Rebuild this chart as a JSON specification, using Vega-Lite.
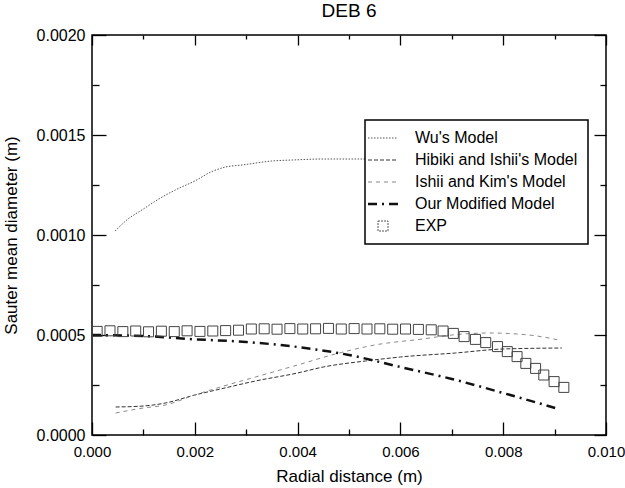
{
  "$schema": "https://vega.github.io/schema/vega-lite/v6.json",
  "width": 514,
  "height": 400,
  "autosize": {"type": "none"},
  "padding": {"left": 92, "top": 35, "right": 19, "bottom": 53},
  "title": {"text": "DEB 6", "fontSize": 19, "font": "Liberation Sans", "fontWeight": "normal", "color": "black", "offset": 6},
  "config": {
    "view": {"stroke": "black", "strokeWidth": 1.5},
    "font": "Liberation Sans",
    "axis": {"domain": false, "grid": false, "tickColor": "black", "tickWidth": 1.3, "labelColor": "black", "titleColor": "black", "labelFont": "Liberation Sans", "titleFont": "Liberation Sans", "labelFontSize": 16, "titleFontSize": 17, "titleFontWeight": "normal", "labelFlush": false, "labelOverlap": false}
  },
  "datasets": {
    "lines": [
      {"series": "Wu's Model", "x": 0.00045, "y": 0.00102},
      {"series": "Wu's Model", "x": 0.0007, "y": 0.00108},
      {"series": "Wu's Model", "x": 0.00097, "y": 0.001125},
      {"series": "Wu's Model", "x": 0.0013, "y": 0.00118},
      {"series": "Wu's Model", "x": 0.00162, "y": 0.001225},
      {"series": "Wu's Model", "x": 0.002, "y": 0.00127},
      {"series": "Wu's Model", "x": 0.00233, "y": 0.001317},
      {"series": "Wu's Model", "x": 0.0026, "y": 0.00134},
      {"series": "Wu's Model", "x": 0.00292, "y": 0.00135},
      {"series": "Wu's Model", "x": 0.0035, "y": 0.00137},
      {"series": "Wu's Model", "x": 0.0039, "y": 0.001375},
      {"series": "Wu's Model", "x": 0.0045, "y": 0.00138},
      {"series": "Wu's Model", "x": 0.0052, "y": 0.00138},
      {"series": "Wu's Model", "x": 0.006, "y": 0.00138},
      {"series": "Wu's Model", "x": 0.007, "y": 0.00138},
      {"series": "Wu's Model", "x": 0.008, "y": 0.00138},
      {"series": "Wu's Model", "x": 0.0091, "y": 0.00138},
      {"series": "Hibiki and Ishii's Model", "x": 0.00046, "y": 0.00014},
      {"series": "Hibiki and Ishii's Model", "x": 0.001, "y": 0.000145},
      {"series": "Hibiki and Ishii's Model", "x": 0.00143, "y": 0.00016},
      {"series": "Hibiki and Ishii's Model", "x": 0.002, "y": 0.0002},
      {"series": "Hibiki and Ishii's Model", "x": 0.0025, "y": 0.00023},
      {"series": "Hibiki and Ishii's Model", "x": 0.00318, "y": 0.00027},
      {"series": "Hibiki and Ishii's Model", "x": 0.004, "y": 0.00031},
      {"series": "Hibiki and Ishii's Model", "x": 0.0045, "y": 0.00034},
      {"series": "Hibiki and Ishii's Model", "x": 0.00532, "y": 0.00037},
      {"series": "Hibiki and Ishii's Model", "x": 0.006, "y": 0.00039},
      {"series": "Hibiki and Ishii's Model", "x": 0.00707, "y": 0.00041},
      {"series": "Hibiki and Ishii's Model", "x": 0.008, "y": 0.00043},
      {"series": "Hibiki and Ishii's Model", "x": 0.00914, "y": 0.000435},
      {"series": "Ishii and Kim's Model", "x": 0.00046, "y": 0.00011},
      {"series": "Ishii and Kim's Model", "x": 0.001, "y": 0.000135},
      {"series": "Ishii and Kim's Model", "x": 0.00143, "y": 0.00015},
      {"series": "Ishii and Kim's Model", "x": 0.002, "y": 0.0002},
      {"series": "Ishii and Kim's Model", "x": 0.0025, "y": 0.00024},
      {"series": "Ishii and Kim's Model", "x": 0.00318, "y": 0.00029},
      {"series": "Ishii and Kim's Model", "x": 0.004, "y": 0.00035},
      {"series": "Ishii and Kim's Model", "x": 0.00481, "y": 0.00041},
      {"series": "Ishii and Kim's Model", "x": 0.0055, "y": 0.00045},
      {"series": "Ishii and Kim's Model", "x": 0.00643, "y": 0.00048},
      {"series": "Ishii and Kim's Model", "x": 0.007, "y": 0.0005},
      {"series": "Ishii and Kim's Model", "x": 0.00772, "y": 0.00051},
      {"series": "Ishii and Kim's Model", "x": 0.0085, "y": 0.0005},
      {"series": "Ishii and Kim's Model", "x": 0.00908, "y": 0.000475}
    ],
    "modified": [
      {"series": "Our Modified Model", "x": 0.0, "y": 0.0005},
      {"series": "Our Modified Model", "x": 0.001, "y": 0.000495},
      {"series": "Our Modified Model", "x": 0.00189, "y": 0.00048},
      {"series": "Our Modified Model", "x": 0.003, "y": 0.000465},
      {"series": "Our Modified Model", "x": 0.004, "y": 0.00044},
      {"series": "Our Modified Model", "x": 0.005, "y": 0.0004},
      {"series": "Our Modified Model", "x": 0.006, "y": 0.00034},
      {"series": "Our Modified Model", "x": 0.007, "y": 0.00028},
      {"series": "Our Modified Model", "x": 0.008, "y": 0.00021},
      {"series": "Our Modified Model", "x": 0.00908, "y": 0.00013}
    ],
    "exp": [
      {"x": 0.0001, "y": 0.000518},
      {"x": 0.00035, "y": 0.000521},
      {"x": 0.0006, "y": 0.000517},
      {"x": 0.00085, "y": 0.00052},
      {"x": 0.0011, "y": 0.000516},
      {"x": 0.00135, "y": 0.000519},
      {"x": 0.0016, "y": 0.000517},
      {"x": 0.00185, "y": 0.000521},
      {"x": 0.0021, "y": 0.000518},
      {"x": 0.00235, "y": 0.00052},
      {"x": 0.0026, "y": 0.000522},
      {"x": 0.00285, "y": 0.000524},
      {"x": 0.0031, "y": 0.00053},
      {"x": 0.00335, "y": 0.000531},
      {"x": 0.0036, "y": 0.000529},
      {"x": 0.00385, "y": 0.000532},
      {"x": 0.0041, "y": 0.00053},
      {"x": 0.00435, "y": 0.000531},
      {"x": 0.0046, "y": 0.000533},
      {"x": 0.00485, "y": 0.00053},
      {"x": 0.0051, "y": 0.000532},
      {"x": 0.00535, "y": 0.00053},
      {"x": 0.0056, "y": 0.000531},
      {"x": 0.00585, "y": 0.000529},
      {"x": 0.0061, "y": 0.00053},
      {"x": 0.00635, "y": 0.000528},
      {"x": 0.0066, "y": 0.000526},
      {"x": 0.00683, "y": 0.00052},
      {"x": 0.00703, "y": 0.000508},
      {"x": 0.00724, "y": 0.000492},
      {"x": 0.00746, "y": 0.000478},
      {"x": 0.00766, "y": 0.000462},
      {"x": 0.00789, "y": 0.000442},
      {"x": 0.00808, "y": 0.000417},
      {"x": 0.00827, "y": 0.000392},
      {"x": 0.00844, "y": 0.000358},
      {"x": 0.00863, "y": 0.000333},
      {"x": 0.00879, "y": 0.0003},
      {"x": 0.00899, "y": 0.000267},
      {"x": 0.00918, "y": 0.000238}
    ]
  },
  "layer": [
    {
      "data": {"name": "lines"},
      "mark": {"type": "line", "strokeWidth": 1, "interpolate": "monotone"},
      "encoding": {
        "x": {"field": "x", "type": "quantitative", "scale": {"domain": [0, 0.01], "nice": false, "zero": false},
              "axis": {"orient": "bottom", "values": [0, 0.002, 0.004, 0.006, 0.008, 0.01], "format": ".3f", "tickSize": -13, "labelPadding": 22, "labelFontSize": 15, "title": "Radial distance (m)", "titlePadding": 9}},
        "y": {"field": "y", "type": "quantitative", "scale": {"domain": [0, 0.002], "nice": false, "zero": false},
              "axis": {"orient": "left", "values": [0, 0.0005, 0.001, 0.0015, 0.002], "format": ".4f", "tickSize": -14, "labelPadding": 21, "title": "Sauter mean diameter (m)", "titlePadding": 16}},
        "color": {"field": "series", "type": "nominal",
                  "scale": {"domain": ["Wu's Model", "Hibiki and Ishii's Model", "Ishii and Kim's Model", "Our Modified Model", "EXP"],
                            "range": ["#555555", "#333333", "#8a8a8a", "#111111", "#555555"]},
                  "legend": {
                    "orient": "none", "legendX": 273, "legendY": 85, "title": null,
                    "fillColor": "white", "strokeColor": "black", "padding": 10,
                    "labelFontSize": 16, "labelFont": "Liberation Sans", "labelColor": "black", "labelLimit": 400,
                    "symbolSize": 400, "rowPadding": 6, "labelOffset": 24,
                    "encode": {
                      "legend": {"update": {"strokeWidth": {"value": 1.5}}},
                      "symbols": {"update": {
                        "shape": {"signal": "datum.value === 'EXP' ? 'square' : 'M-1.5,0H1.5'"},
                        "size": {"signal": "datum.value === 'EXP' ? 100 : 400"},
                        "fill": {"value": "transparent"},
                        "strokeWidth": {"signal": "datum.value === 'Our Modified Model' ? 2.5 : 1"},
                        "strokeDash": {"signal": "datum.value === 'Our Modified Model' ? [9,5,2,5] : datum.value === 'EXP' ? [2,1] : datum.value === 'Ishii and Kim\\'s Model' ? [4,4] : datum.value === 'Hibiki and Ishii\\'s Model' ? [4,2] : [1.5,1.5]"}
                      }}
                    }
                  }},
        "strokeDash": {"field": "series", "type": "nominal", "legend": null,
                       "scale": {"domain": ["Wu's Model", "Hibiki and Ishii's Model", "Ishii and Kim's Model"],
                                 "range": [[1.5, 1.5], [4, 2], [4, 4]]}}
      }
    },
    {
      "data": {"name": "modified"},
      "mark": {"type": "line", "strokeWidth": 2.5, "strokeDash": [9, 5, 2, 5], "color": "#111111", "interpolate": "monotone"},
      "encoding": {
        "x": {"field": "x", "type": "quantitative",
              "axis": {"orient": "top", "values": [0, 0.002, 0.004, 0.006, 0.008, 0.01], "labels": false, "tickSize": -10, "title": null}},
        "y": {"field": "y", "type": "quantitative",
              "axis": {"orient": "right", "values": [0, 0.0005, 0.001, 0.0015, 0.002], "labels": false, "tickSize": -12, "title": null}}
      }
    },
    {
      "data": {"name": "exp"},
      "mark": {"type": "point", "shape": "square", "filled": false, "size": 100, "stroke": "#444444", "strokeWidth": 1, "opacity": 1},
      "encoding": {
        "x": {"field": "x", "type": "quantitative",
              "axis": {"orient": "bottom", "values": [0.001, 0.003, 0.005, 0.007, 0.009], "labels": false, "tickSize": -6, "title": null}},
        "y": {"field": "y", "type": "quantitative",
              "axis": {"orient": "left", "values": [0.00025, 0.00075, 0.00125, 0.00175], "labels": false, "tickSize": -7, "title": null}}
      }
    },
    {
      "data": {"name": "exp"},
      "mark": {"type": "point", "opacity": 0},
      "encoding": {
        "x": {"field": "x", "type": "quantitative",
              "axis": {"orient": "top", "values": [0.001, 0.003, 0.005, 0.007, 0.009], "labels": false, "tickSize": -4, "title": null}},
        "y": {"field": "y", "type": "quantitative",
              "axis": {"orient": "right", "values": [0.00025, 0.00075, 0.00125, 0.00175], "labels": false, "tickSize": -6, "title": null}}
      }
    }
  ],
  "resolve": {"axis": {"x": "independent", "y": "independent"}}
}
